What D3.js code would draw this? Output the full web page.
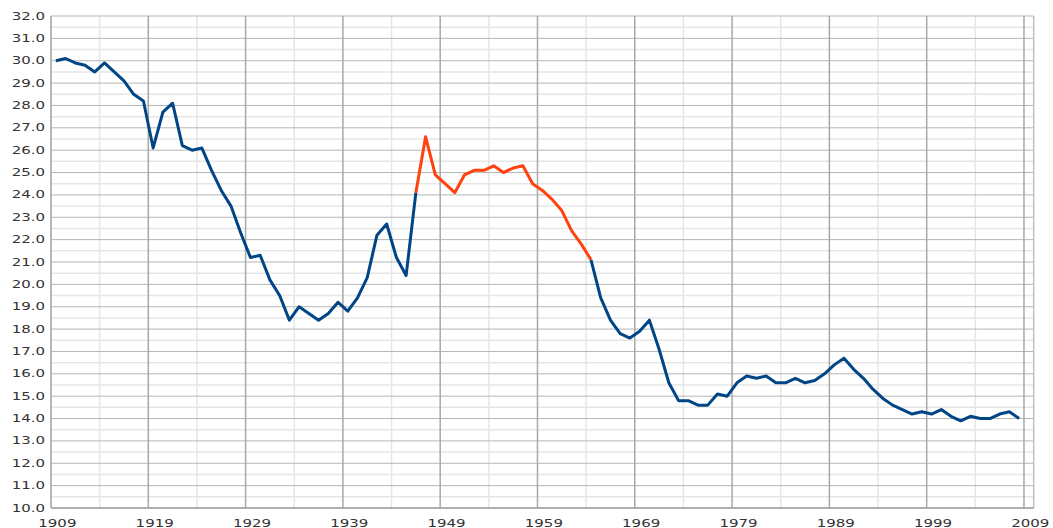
<!DOCTYPE html>
<html>
<head>
<meta charset="utf-8">
<script src="https://cdn.jsdelivr.net/npm/d3@7"></script>
<style>
  html, body { margin: 0; padding: 0; background: #fff; }
  svg { display: block; }
  text { font-family: "DejaVu Sans", sans-serif; font-size: 10px; fill: #333; }
</style>
</head>
<body>
<svg id="chart" width="1053" height="528"></svg>
<script>
// ---- data ----
const firstYear = 1909;
const values = [
  30.0, 30.1, 29.9, 29.8, 29.5, 29.9, 29.5, 29.1, 28.5, 28.2,   // 1909-1918
  26.1, 27.7, 28.1, 26.2, 26.0, 26.1, 25.1, 24.2, 23.5, 22.3,   // 1919-1928
  21.2, 21.3, 20.2, 19.5, 18.4, 19.0, 18.7, 18.4, 18.7, 19.2,   // 1929-1938
  18.8, 19.4, 20.3, 22.2, 22.7, 21.2, 20.4, 24.1, 26.6, 24.9,   // 1939-1948
  24.5, 24.1, 24.9, 25.1, 25.1, 25.3, 25.0, 25.2, 25.3, 24.5,   // 1949-1958
  24.2, 23.8, 23.3, 22.4, 21.8, 21.1, 19.4, 18.4, 17.8, 17.6,   // 1959-1968
  17.9, 18.4, 17.1, 15.6, 14.8, 14.8, 14.6, 14.6, 15.1, 15.0,   // 1969-1978
  15.6, 15.9, 15.8, 15.9, 15.6, 15.6, 15.8, 15.6, 15.7, 16.0,   // 1979-1988
  16.4, 16.7, 16.2, 15.8, 15.3, 14.9, 14.6, 14.4, 14.2, 14.3,   // 1989-1998
  14.2, 14.4, 14.1, 13.9, 14.1, 14.0, 14.0, 14.2, 14.3, 14.0    // 1999-2008
];
const years = values.map((v, i) => firstYear + i);
const highlightStart = 1946;
const highlightEnd = 1964;
const categories = d3.range(1909, 2010);           // category slots 1909..2009
const xTickLabels = ["1909","1919","1929","1939","1949","1959","1969","1979","1989","1999","2009"];
const yTicks = d3.range(10, 32.5, 1);
const yMinorTicks = d3.range(10.5, 32, 1);

// ---- layout ----
const svg = d3.select("#chart");
const mLeft = 51, mRight = 1033.7, mTop = 16, mBottom = 508;

const x = d3.scaleBand().domain(categories).range([mLeft, mRight]).paddingInner(0).paddingOuter(0);
const xc = yr => x(yr) + x.bandwidth() / 2;
const y = d3.scaleLinear().domain([10, 32]).range([mBottom, mTop]);

const g = svg.append("g");

// minor horizontal gridlines
g.selectAll(".hminor").data(yMinorTicks).enter().append("line")
  .attr("x1", mLeft).attr("x2", mRight)
  .attr("y1", d => y(d)).attr("y2", d => y(d))
  .attr("stroke", "#e6e6e6").attr("stroke-width", 1.5);

// minor vertical gridlines (5-year)
const minorV = categories.filter(c => (c - 1909) % 10 === 5);
g.selectAll(".vminor").data(minorV).enter().append("line")
  .attr("x1", d => x(d)).attr("x2", d => x(d))
  .attr("y1", mTop).attr("y2", mBottom)
  .attr("stroke", "#e6e6e6").attr("stroke-width", 1.5);

// major horizontal gridlines
g.selectAll(".hmajor").data(yTicks).enter().append("line")
  .attr("x1", mLeft).attr("x2", mRight)
  .attr("y1", d => y(d)).attr("y2", d => y(d))
  .attr("stroke", "#b5b5b5").attr("stroke-width", 1);

// major vertical gridlines (decades)
const majorV = categories.filter(c => (c - 1909) % 10 === 0 && c !== 1909);
g.selectAll(".vmajor").data(majorV).enter().append("line")
  .attr("x1", d => x(d)).attr("x2", d => x(d))
  .attr("y1", mTop).attr("y2", mBottom)
  .attr("stroke", "#a8a8a8").attr("stroke-width", 1.5);

// frame: left axis, bottom axis, right edge
g.append("line").attr("x1", mLeft).attr("x2", mLeft).attr("y1", mTop).attr("y2", mBottom)
  .attr("stroke", "#a0a0a0").attr("stroke-width", 1.5);
g.append("line").attr("x1", mLeft).attr("x2", mRight).attr("y1", mBottom).attr("y2", mBottom)
  .attr("stroke", "#a0a0a0").attr("stroke-width", 1.5);
g.append("line").attr("x1", mRight).attr("x2", mRight).attr("y1", mTop).attr("y2", mBottom)
  .attr("stroke", "#c0c0c0").attr("stroke-width", 1.5);

// y labels
g.selectAll(".ylab").data(yTicks).enter().append("text")
  .attr("text-anchor", "end")
  .attr("dominant-baseline", "central")
  .attr("transform", d => `translate(45,${y(d)}) scale(1.5,1)`)
  .text(d => d.toFixed(1));

// x labels
g.selectAll(".xlab").data(xTickLabels).enter().append("text")
  .attr("text-anchor", "middle")
  .attr("transform", d => `translate(${xc(+d) + 1.5},527) scale(1.5,1)`)
  .text(d => d);

// ---- lines ----
const data = years.map((yr, i) => ({ yr, v: values[i] }));
const blueLine = d3.line()
  .defined(d => d.yr <= highlightStart || d.yr >= highlightEnd)
  .x(d => xc(d.yr)).y(d => y(d.v));
const orangeLine = d3.line()
  .defined(d => d.yr >= highlightStart && d.yr <= highlightEnd)
  .x(d => xc(d.yr)).y(d => y(d.v));

g.append("path").datum(data).attr("d", blueLine)
  .attr("fill", "none").attr("stroke", "#004586").attr("stroke-width", 3)
  .attr("stroke-linejoin", "round");
g.append("path").datum(data).attr("d", orangeLine)
  .attr("fill", "none").attr("stroke", "#ff420e").attr("stroke-width", 3)
  .attr("stroke-linejoin", "round");
</script>
</body>
</html>
